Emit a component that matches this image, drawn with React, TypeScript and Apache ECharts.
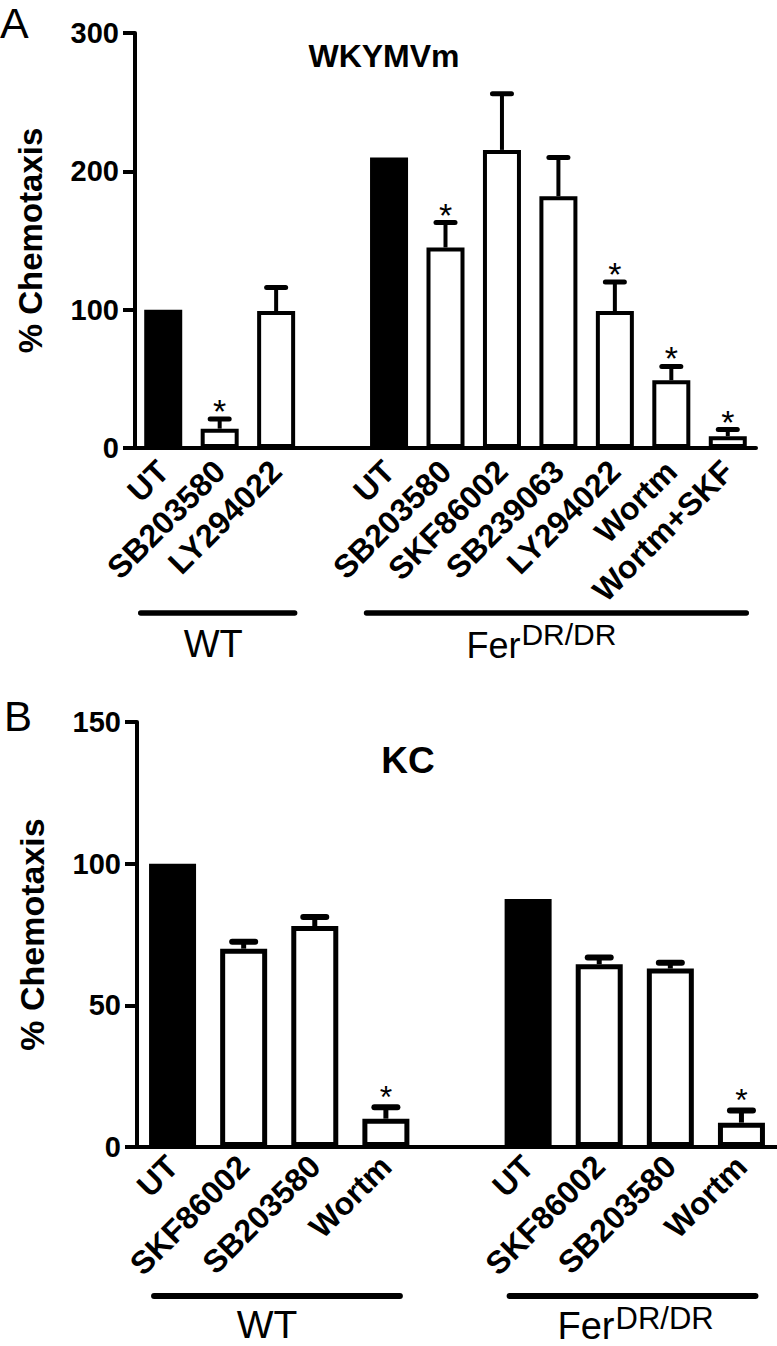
import React, { useEffect, useRef } from "react";
import * as echarts from "echarts";

// ---------- Panel A data (WKYMVm) ----------
const catsA = ["UT", "SB203580", "LY294022", "", "UT", "SB203580", "SKF86002", "SB239063", "LY294022", "Wortm", "Wortm+SKF"];
const meanA: (number | null)[] = [100, 14, 99, null, 210, 145, 215.5, 182, 99, 49, 8.5];
const errA = [0, 7, 17, 0, 0, 18, 40.5, 28, 21, 10, 4.8];
const sigA = [0, 1, 0, 0, 0, 1, 0, 0, 1, 1, 1];
const filledA = [1, 0, 0, 0, 1, 0, 0, 0, 0, 0, 0];
const ticksA = [0, 100, 200, 300];
const groupNamesA = ["WT", "Fer"];
const groupFromA = [0, 4];
const groupToA = [2, 10];

// ---------- Panel B data (KC) ----------
const catsB = ["UT", "SKF86002", "SB203580", "Wortm", "", "UT", "SKF86002", "SB203580", "Wortm"];
const meanB: (number | null)[] = [100, 70, 78, 10, null, 87.5, 64.5, 63, 8.6];
const errB = [0, 2.4, 3.2, 4, 0, 0, 2.4, 2, 4.3];
const sigB = [0, 0, 0, 1, 0, 0, 0, 0, 1];
const filledB = [1, 0, 0, 0, 0, 1, 0, 0, 0];
const ticksB = [0, 50, 100, 150];
const groupNamesB = ["WT", "Fer"];
const groupFromB = [0, 5];
const groupToB = [3, 8];

const FONT = "'Liberation Sans', Arial, Helvetica, sans-serif";

function keys(cats: string[]) {
  return cats.map((c, i) => i + "|" + c);
}

function barData(mean: (number | null)[], filled: number[]) {
  return mean.map((v, i) =>
    v == null ? "-" : { value: v, itemStyle: { color: filled[i] ? "#000" : "#fff" } }
  );
}

function errData(mean: (number | null)[], err: number[], sig: number[]) {
  const out: number[][] = [];
  mean.forEach((v, i) => {
    if (v != null) out.push([i, v, v + err[i], sig[i]]);
  });
  return out;
}

function makeRender(lw: number, capW: number, capHalf: number, starSize: number, starOff: number) {
  return (params: any, api: any) => {
    const i = api.value(0);
    const m = api.value(1);
    const t = api.value(2);
    const s = api.value(3);
    const p0 = api.coord([i, m]);
    const p1 = api.coord([i, t]);
    const children: any[] = [];
    if (t > m) {
      children.push({
        type: "line",
        shape: { x1: p0[0], y1: p0[1], x2: p1[0], y2: p1[1] },
        style: { stroke: "#000", lineWidth: lw },
      });
      children.push({
        type: "line",
        shape: { x1: p1[0] - capHalf, y1: p1[1], x2: p1[0] + capHalf, y2: p1[1] },
        style: { stroke: "#000", lineWidth: capW, lineCap: "round" },
      });
    }
    if (s) {
      children.push({
        type: "text",
        x: p1[0],
        y: p1[1] - starOff,
        style: {
          text: "*",
          fill: "#000",
          fontSize: starSize,
          fontFamily: FONT,
          align: "center",
          verticalAlign: "middle",
        },
      });
    }
    return { type: "group", children };
  };
}

function xAxisCfg(gridIndex: number, cats: string[], margin: number) {
  return {
    gridIndex,
    type: "category",
    data: keys(cats),
    boundaryGap: true,
    axisLine: { show: true, lineStyle: { color: "#000", width: 4 } },
    axisTick: { show: false },
    splitLine: { show: false },
    axisLabel: {
      interval: 0,
      rotate: 45,
      margin,
      color: "#000",
      fontSize: 32,
      fontWeight: "bold",
      fontFamily: FONT,
      formatter: (v: string) => v.split("|")[1],
    },
  };
}

function yAxisCfg(gridIndex: number, ticks: number[], nameSize: number) {
  return {
    gridIndex,
    type: "value",
    min: ticks[0],
    max: ticks[ticks.length - 1],
    interval: ticks[1] - ticks[0],
    name: "% Chemotaxis",
    nameLocation: "middle",
    nameGap: 88,
    nameTextStyle: { color: "#000", fontSize: nameSize, fontWeight: "bold", fontFamily: FONT },
    axisLine: { show: true, lineStyle: { color: "#000", width: 4 } },
    axisTick: { show: true, length: 12, lineStyle: { color: "#000", width: 4 } },
    splitLine: { show: false },
    axisLabel: { color: "#000", fontSize: 29, fontWeight: "bold", fontFamily: FONT, margin: 16 },
  };
}

export default function App() {
  const ref = useRef<HTMLDivElement>(null);
  useEffect(() => {
    if (!ref.current) return;
    const chart = echarts.init(ref.current, undefined, { renderer: "svg" });
    const option: any = {
      animation: false,
      backgroundColor: "#fff",
      textStyle: { fontFamily: FONT },
      grid: [
        { left: 135, right: 21, top: 33, height: 415 },
        { left: 137, right: 0, top: 722, height: 425 },
      ],
      xAxis: [xAxisCfg(0, catsA, 18), xAxisCfg(1, catsB, 14)],
      yAxis: [yAxisCfg(0, ticksA, 33), yAxisCfg(1, ticksB, 34)],
      series: [
        {
          type: "bar",
          xAxisIndex: 0,
          yAxisIndex: 0,
          data: barData(meanA, filledA),
          barWidth: 38,
          itemStyle: { borderColor: "#000", borderWidth: 4 },
        },
        {
          type: "custom",
          xAxisIndex: 0,
          yAxisIndex: 0,
          data: errData(meanA, errA, sigA),
          renderItem: makeRender(4, 5, 9.5, 34, 7.9),
          z: 3,
        },
        {
          type: "bar",
          xAxisIndex: 1,
          yAxisIndex: 1,
          data: barData(meanB, filledB),
          barWidth: 47,
          itemStyle: { borderColor: "#000", borderWidth: 5 },
        },
        {
          type: "custom",
          xAxisIndex: 1,
          yAxisIndex: 1,
          data: errData(meanB, errB, sigB),
          renderItem: makeRender(5, 6, 11.5, 32, 10.8),
          z: 3,
        },
      ],
    };
    chart.setOption(option);

    const px = (axis: number, idx: number) =>
      chart.convertToPixel({ xAxisIndex: axis } as any, idx) as unknown as number;

    const graphics: any[] = [];
    const txt = (text: string, x: number, y: number, size: number, weight: string, align: string) => ({
      type: "text",
      x,
      y,
      style: {
        text,
        fill: "#000",
        fontSize: size,
        fontWeight: weight,
        fontFamily: FONT,
        align,
        verticalAlign: "middle",
      },
    });

    // Panel letters and titles
    graphics.push(txt("A", 0, 23, 43, "normal", "left"));
    graphics.push(txt("B", 4, 716, 42, "normal", "left"));
    graphics.push(txt("WKYMVm", 384, 56, 32, "bold", "center"));
    graphics.push(txt("KC", 408, 760, 37, "bold", "center"));

    // Group lines A
    const linesA = groupNamesA.map((_, g) => [px(0, groupFromA[g]) - 22.5, px(0, groupToA[g]) + 18.5]);
    linesA.forEach(([x1, x2]) => {
      graphics.push({
        type: "line",
        shape: { x1, y1: 613, x2, y2: 613 },
        style: { stroke: "#000", lineWidth: 5.5, lineCap: "round" },
      });
    });
    // Group lines B
    const linesB = groupNamesB.map((_, g) => [px(1, groupFromB[g]) - 18.5, px(1, groupToB[g]) + 14]);
    linesB.forEach(([x1, x2]) => {
      graphics.push({
        type: "line",
        shape: { x1, y1: 1296, x2, y2: 1296 },
        style: { stroke: "#000", lineWidth: 6, lineCap: "round" },
      });
    });

    // Group labels A
    const cA0 = (linesA[0][0] + linesA[0][1]) / 2;
    const cA1 = (linesA[1][0] + linesA[1][1]) / 2;
    graphics.push(txt(groupNamesA[0], cA0 - 4.5, 644, 38, "normal", "center"));
    graphics.push(txt(groupNamesA[1], cA1 - 36, 645.5, 36, "normal", "right"));
    graphics.push(txt("DR/DR", cA1 - 35, 634, 30, "normal", "left"));

    // Group labels B
    const cB0 = (linesB[0][0] + linesB[0][1]) / 2;
    const cB1 = (linesB[1][0] + linesB[1][1]) / 2;
    graphics.push(txt(groupNamesB[0], cB0 - 10, 1324.5, 39, "normal", "center"));
    graphics.push(txt(groupNamesB[1], cB1 - 18, 1325.5, 38, "normal", "right"));
    graphics.push(txt("DR/DR", cB1 - 17, 1318, 31, "normal", "left"));

    chart.setOption({ graphic: graphics });

    return () => chart.dispose();
  }, []);

  return (
    <div
      ref={ref}
      style={{ position: "absolute", left: 0, top: 0, width: 777, height: 1346, background: "#fff" }}
    />
  );
}
